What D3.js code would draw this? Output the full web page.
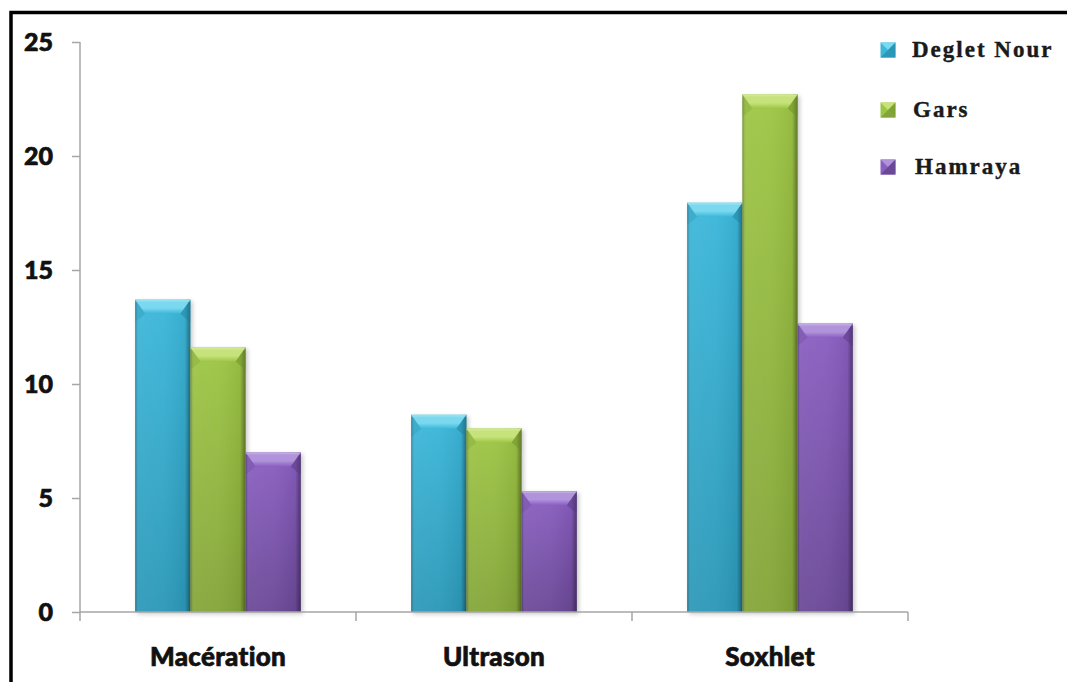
<!DOCTYPE html>
<html>
<head>
<meta charset="utf-8">
<script src="https://cdn.jsdelivr.net/npm/d3@7"></script>
<style>
  html, body { margin: 0; padding: 0; background: #fff; }
  svg { display: block; }
</style>
</head>
<body>
<svg id="chart" width="1067" height="682"></svg>
<script>
// Extraction yield by method and date variety
const categories = ["Macération", "Ultrason", "Soxhlet"];
const seriesNames = ["Deglet Nour", "Gars", "Hamraya"];
const degletNour = [13.7, 8.65, 17.95];
const gars = [11.6, 8.05, 22.7];
const hamraya = [7.0, 5.3, 12.65];
const yTicks = [0, 5, 10, 15, 20, 25];

const seriesValues = [degletNour, gars, hamraya];
const palette = [
  { top: "#7ad8ef", mid: "#3cb7da", bottom: "#2c98b8", edge: "#1f7f9c" },
  { top: "#c6e27a", mid: "#9ec645", bottom: "#84a539", edge: "#6a8a2a" },
  { top: "#b093da", mid: "#8a5fc2", bottom: "#6a4896", edge: "#54387c" }
];

const svg = d3.select("#chart");
const defs = svg.append("defs");

// Frame (top and left edges visible)
svg.append("rect")
  .attr("x", 11).attr("y", 12.5)
  .attr("width", 1200).attr("height", 800)
  .attr("fill", "none").attr("stroke", "#000").attr("stroke-width", 3.5);

const y = d3.scaleLinear().domain([0, 25]).range([612, 42]);
const x0 = d3.scaleBand().domain(categories).range([80, 908]);
const x1 = d3.scaleBand().domain(seriesNames).range([0, x0.bandwidth()]).paddingOuter(1);

// Gradients per series: body (vertical) and top bevel
palette.forEach((c, i) => {
  const gv = defs.append("linearGradient").attr("id", "gv" + i)
    .attr("x1", 0).attr("y1", 0).attr("x2", 0).attr("y2", 1);
  gv.append("stop").attr("offset", "0%").attr("stop-color", c.mid);
  gv.append("stop").attr("offset", "100%").attr("stop-color", c.bottom);
  const gb = defs.append("linearGradient").attr("id", "gb" + i)
    .attr("x1", 0).attr("y1", 0).attr("x2", 0).attr("y2", 1);
  gb.append("stop").attr("offset", "0%").attr("stop-color", c.top);
  gb.append("stop").attr("offset", "60%").attr("stop-color", c.top);
  gb.append("stop").attr("offset", "100%").attr("stop-color", c.mid);
});
const gh = defs.append("linearGradient").attr("id", "gh")
  .attr("x1", 0).attr("y1", 0).attr("x2", 1).attr("y2", 0);
gh.append("stop").attr("offset", "0%").attr("stop-color", "#000").attr("stop-opacity", 0.28);
gh.append("stop").attr("offset", "7%").attr("stop-color", "#fff").attr("stop-opacity", 0.06);
gh.append("stop").attr("offset", "50%").attr("stop-color", "#fff").attr("stop-opacity", 0.04);
gh.append("stop").attr("offset", "90%").attr("stop-color", "#000").attr("stop-opacity", 0.05);
gh.append("stop").attr("offset", "100%").attr("stop-color", "#000").attr("stop-opacity", 0.4);

const shadow = defs.append("filter").attr("id", "shadow")
  .attr("x", "-20%").attr("y", "-5%").attr("width", "150%").attr("height", "115%");
shadow.append("feDropShadow").attr("dx", 2).attr("dy", 2).attr("stdDeviation", 2)
  .attr("flood-color", "#000").attr("flood-opacity", 0.22);

// Axes
const axisColor = "#a6a6a6";
const gy = svg.append("g").attr("transform", "translate(80,0)")
  .call(d3.axisLeft(y).tickValues(yTicks).tickSize(8).tickPadding(19).tickFormat(d3.format("d")));
gy.select(".domain").attr("stroke", axisColor).attr("stroke-width", 1.5).attr("d", "M0,42V612");
gy.selectAll(".tick line").attr("stroke", axisColor).attr("stroke-width", 1.5);
gy.selectAll(".tick text")
  .attr("fill", "#111")
  .attr("stroke", "#111").attr("stroke-width", 0.7)
  .style("font-family", "Lato, 'Open Sans', sans-serif")
  .style("font-weight", 900)
  .style("font-size", "25px");

// Bars
const bars = svg.append("g");
categories.forEach((cat, ci) => {
  seriesNames.forEach((s, si) => {
    const v = seriesValues[si][ci];
    const bx = x0(cat) + x1(s);
    const bw = x1.bandwidth();
    const by = y(v);
    const bh = y(0) - by;
    const c = palette[si];
    const g = bars.append("g").attr("filter", "url(#shadow)");
    g.append("rect").attr("x", bx).attr("y", by).attr("width", bw).attr("height", bh)
      .attr("fill", `url(#gv${si})`);
    g.append("rect").attr("x", bx).attr("y", by).attr("width", bw).attr("height", bh)
      .attr("fill", "url(#gh)");
    // top bevel
    const bev = 14, ins = 10;
    g.append("path")
      .attr("d", `M${bx},${by}H${bx + bw}L${bx + bw - ins},${by + bev}H${bx + ins}Z`)
      .attr("fill", `url(#gb${si})`);
    g.append("path")
      .attr("d", `M${bx},${by}L${bx + ins},${by + bev}L${bx + 3},${by + bev + 6}L${bx},${by + bev + 8}Z`)
      .attr("fill", c.edge).attr("opacity", 0.2);
    g.append("path")
      .attr("d", `M${bx + bw},${by}L${bx + bw - ins},${by + bev}L${bx + bw - 3},${by + bev + 6}L${bx + bw},${by + bev + 8}Z`)
      .attr("fill", c.edge).attr("opacity", 0.45);
    g.append("rect").attr("x", bx).attr("y", by).attr("width", bw).attr("height", 2)
      .attr("fill", "#fff").attr("opacity", 0.2);
  });
});

// X axis line and category boundary ticks
const bounds = categories.map(c => x0(c)).concat([x0.range()[1]]);
svg.append("line").attr("x1", 80).attr("x2", 908).attr("y1", y(0)).attr("y2", y(0))
  .attr("stroke", axisColor).attr("stroke-width", 1.5);
svg.append("g").selectAll("line").data(bounds).join("line")
  .attr("x1", d => d).attr("x2", d => d)
  .attr("y1", y(0)).attr("y2", y(0) + 9)
  .attr("stroke", axisColor).attr("stroke-width", 1.5);

svg.append("g").selectAll("text").data(categories).join("text")
  .attr("x", d => x0(d) + x0.bandwidth() / 2)
  .attr("y", 666)
  .attr("text-anchor", "middle")
  .attr("fill", "#111")
  .attr("stroke", "#111").attr("stroke-width", 0.7)
  .style("font-family", "Lato, 'Open Sans', sans-serif")
  .style("font-weight", 900)
  .style("font-size", "26px")
  .style("letter-spacing", "0.3px")
  .text(d => d);

// Legend
const legend = svg.append("g");
const legendY = [50, 110, 167];
const legendTextX = [912, 913, 915];
seriesNames.forEach((s, i) => {
  const c = palette[i];
  const cx = 888, cy = legendY[i], h = 7.5;
  const lg = legend.append("g");
  lg.append("rect").attr("x", cx - h).attr("y", cy - h).attr("width", 2 * h).attr("height", 2 * h)
    .attr("fill", c.mid);
  lg.append("path").attr("d", `M${cx - h},${cy - h}H${cx + h}L${cx},${cy}Z`).attr("fill", c.top);
  lg.append("path").attr("d", `M${cx - h},${cy + h}H${cx + h}L${cx},${cy}Z`).attr("fill", c.bottom);
  lg.append("path").attr("d", `M${cx + h},${cy - h}V${cy + h}L${cx},${cy}Z`).attr("fill", c.edge).attr("opacity", 0.6);
  lg.append("text")
    .attr("x", legendTextX[i]).attr("y", cy + 7)
    .attr("fill", "#1a1a1a")
    .attr("stroke", "#1a1a1a").attr("stroke-width", 0.4)
    .style("font-family", "'Liberation Serif', 'Times New Roman', serif")
    .style("font-weight", "bold")
    .style("font-size", "23px")
    .style("letter-spacing", "2px")
    .text(s);
});
</script>
</body>
</html>
